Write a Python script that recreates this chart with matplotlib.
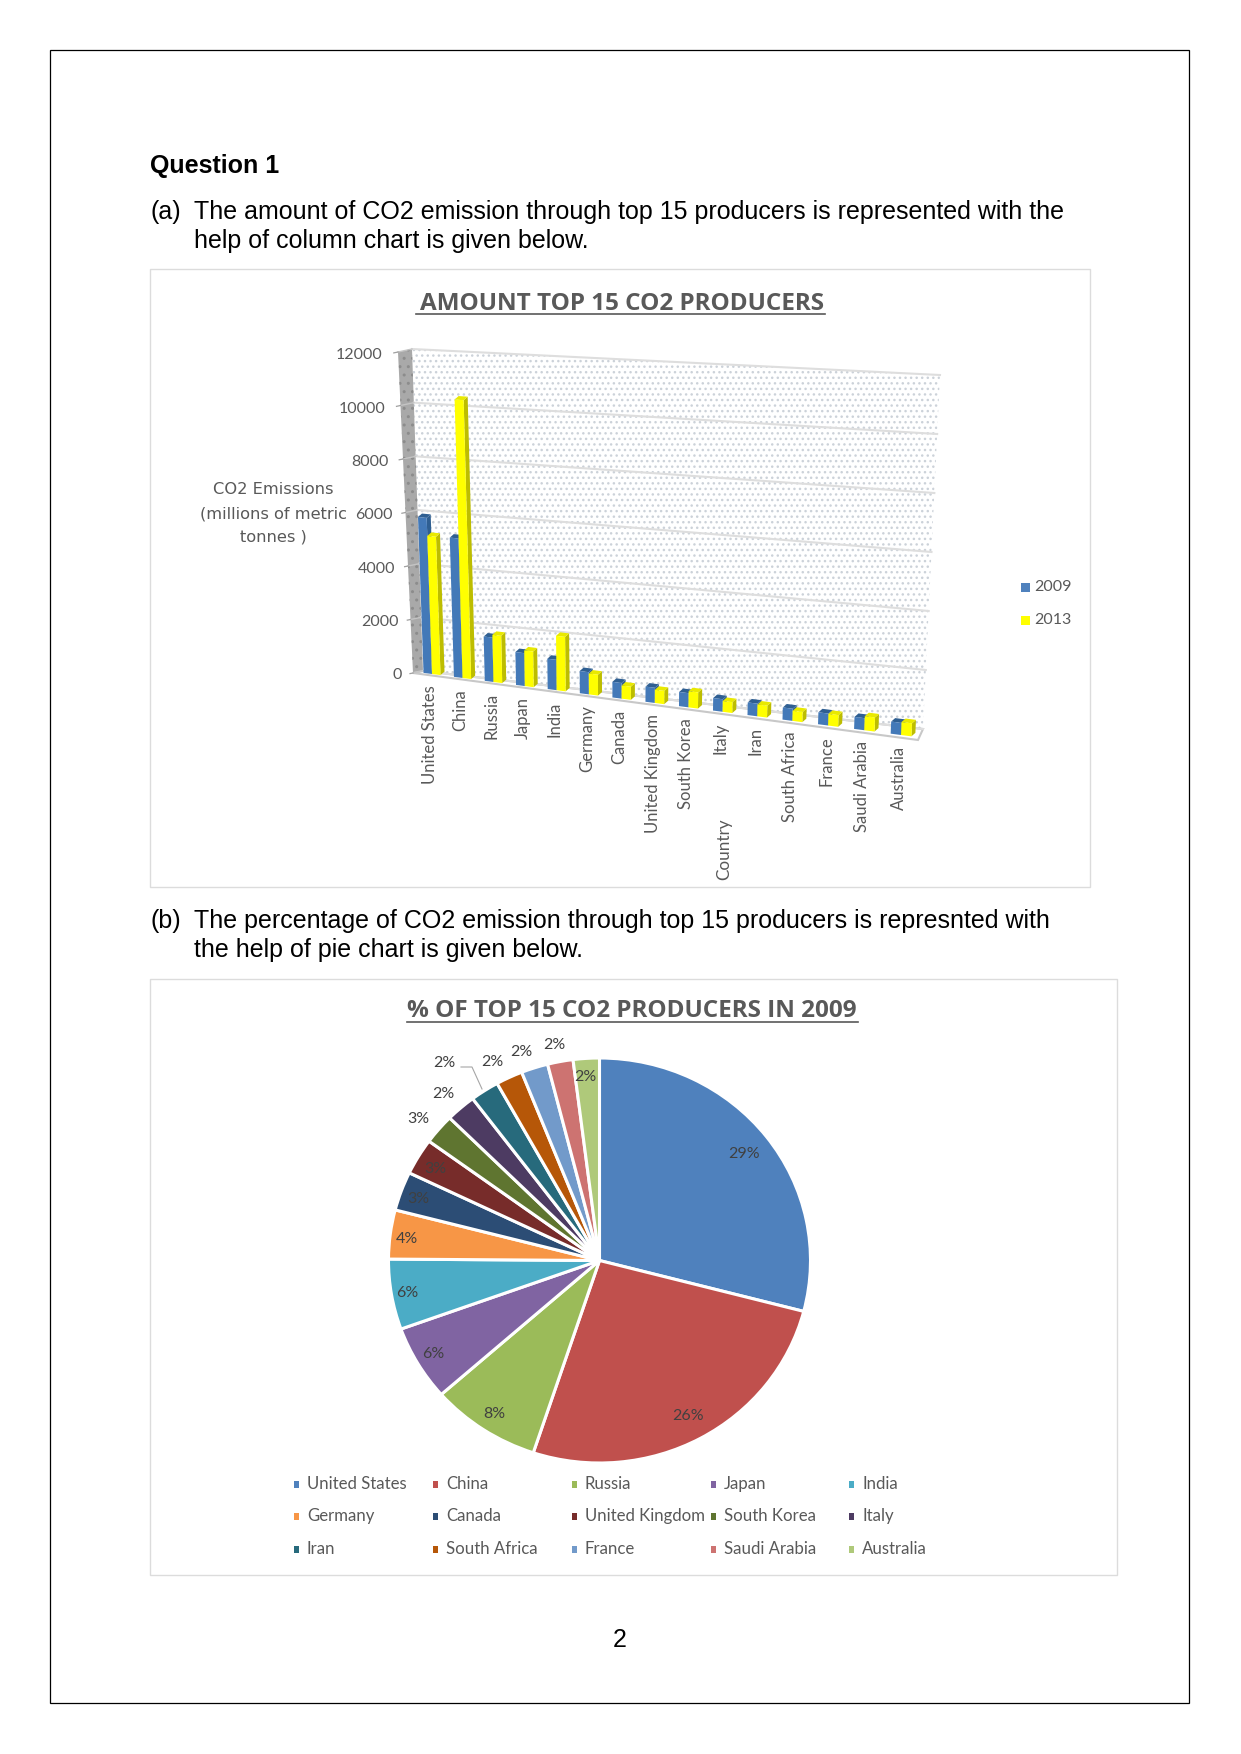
import numpy as np
import matplotlib
matplotlib.use("Agg")
import matplotlib.pyplot as plt
from matplotlib.transforms import Transform, Affine2D

countries = ["United States", "China", "Russia", "Japan", "India", "Germany", "Canada",
             "United Kingdom", "South Korea", "Italy", "Iran", "South Africa", "France",
             "Saudi Arabia", "Australia"]
co2_2009 = [5800, 5150, 1630, 1200, 1100, 800, 560, 540, 500, 440, 440, 420, 410, 410, 410]
co2_2013 = [5130, 10280, 1730, 1300, 1970, 750, 470, 470, 570, 380, 410, 350, 400, 480, 440]
y_ticks = [0, 2000, 4000, 6000, 8000, 10000, 12000]
years = ["2009", "2013"]

pie_values = [29.0, 26.0, 8.4, 6.0, 5.6, 3.9, 3.1, 2.9, 2.4, 2.3, 2.2, 2.05, 2.05, 1.95, 2.0]
pie_labels = ["29%", "26%", "8%", "6%", "6%", "4%", "3%", "3%", "3%", "2%", "2%", "2%", "2%", "2%", "2%"]
pie_colors = ["#4F81BD", "#C0504D", "#9BBB59", "#8064A2", "#4BACC6", "#F79646", "#2C4D75",
              "#772C2A", "#5F7530", "#4D3B62", "#276A7C", "#B65708", "#729ACA", "#CD7371", "#AFC97A"]
pie_label_xy = [(744, 1154), (688, 1416), (494, 1414), (433, 1354), (407, 1293), (407, 1239),
                (418, 1199), (435, 1169), (418, 1119), (443, 1094), (444, 1063), (492, 1062),
                (521, 1052), (554, 1045), (585, 1077)]

W, H = 1241, 1754
ARIAL = "Liberation Sans"
CHART = "Lato"
GREY = "#595959"

fig = plt.figure(figsize=(W / 100, H / 100), dpi=100, facecolor="white")
ax = fig.add_axes([0, 0, 1, 1])
ax.set_xlim(0, W)
ax.set_ylim(H, 0)
ax.axis("off")
ax.set_autoscale_on(False)


class Persp(Transform):
    """(category, value) to page: foreshortened along the category axis, linear in value."""
    input_dims = 2
    output_dims = 2
    is_separable = False
    has_inverse = False

    def __init__(self, u0, u1, vmax, bl, br, tl, tr, r=1.0):
        super().__init__()
        self.u0, self.u1, self.vmax, self.r = u0, u1, vmax, r
        self.c = [np.array(p, float) for p in (bl, br, tl, tr)]

    def transform_non_affine(self, pts):
        pts = np.asarray(pts, float)
        s = (pts[:, 0] - self.u0) / (self.u1 - self.u0)
        t = (s / (self.r + (1 - self.r) * s))[:, None]
        f = (pts[:, 1] / self.vmax)[:, None]
        bl, br, tl, tr = self.c
        return (1 - f) * ((1 - t) * bl + t * br) + f * ((1 - t) * tl + t * tr)


# --- page furniture
ax.add_patch(plt.Rectangle((50, 50), 1139, 1653, fc="none", ec="black", lw=0.9))
ax.text(150, 166.5, "Question 1", family=ARIAL, weight="bold", fontsize=18, va="center", color="black")
page_lines = [(150, 211.5, "(a)"), (194.5, 211.5, "The amount of CO2 emission through top 15 producers is represented with the"),
              (194.5, 241, "help of column chart is given below."),
              (150, 921, "(b)"), (194.5, 921, "The percentage of CO2 emission through top 15 producers is represnted with"),
              (194.5, 950, "the help of pie chart is given below.")]
for x, y, s in page_lines:
    ax.text(x, y, s, family=ARIAL, fontsize=18, va="center", color="black")
ax.text(620, 1640, "2", family=ARIAL, fontsize=18, va="center", ha="center", color="black")

ax.add_patch(plt.Rectangle((150, 269), 940, 618, fc="white", ec="#dcdcdc", lw=1.0))
ax.add_patch(plt.Rectangle((150, 979), 967, 596, fc="white", ec="#dcdcdc", lw=1.0))

# --- column chart
ax.text(622, 304, "AMOUNT TOP 15 CO2 PRODUCERS", family="Open Sans", weight="bold", fontsize=17.5,
        color=GREY, ha="center", va="center")
ax.plot([416, 825], [313.5, 313.5], color=GREY, lw=1.2)

vmax = max(y_ticks)
wall = Persp(0, 1, vmax, (423, 671), (923, 729), (412, 349), (940, 375)) + ax.transData
side = Persp(0, 1, vmax, (413, 673), (423, 671), (398, 352), (412, 349)) + ax.transData
bars_h = Persp(0, 14, vmax, (432, 674), (901, 735), (421, 351), (917, 381), r=1.105)
bars = bars_h + ax.transData

ax.fill([0, 1, 1, 0], [0, 0, vmax, vmax], transform=wall, fc="white", ec="#ccd2d9", lw=0, hatch="...", zorder=1)
ax.fill([0, 1, 1, 0], [0, 0, vmax, vmax], transform=side, fc="#a9a9a9", ec="#8c8c8c", lw=0, hatch="..", zorder=1)
ax.fill([413, 423, 923, 918], [673, 671, 729, 740], fc="white", ec="#c8c8c8", lw=1.5, zorder=2)
for v in y_ticks:
    ax.plot([0, 1], [v, v], transform=wall, color="#dedede", lw=1.5, zorder=2)
    ax.plot([0, 1], [v, v], transform=side, color="#c4c4c4", lw=1.0, zorder=2)
    ax.plot([-0.3, 0], [v, v], transform=side, color="#a0a0a0", lw=0.9, zorder=2)
    ax.text(-1.1, v, str(v), transform=side, family=CHART, fontsize=11.5, color=GREY, ha="right", va="center")

DX, DY = 4.0, -3.5
BW = 0.28


def bar3d(x0, value, front, dark, top, z):
    ax.bar(x0, value, BW, align="edge", transform=bars, color=front, lw=0, zorder=z + 0.2)
    p = bars_h.transform(np.array([[x0, 0], [x0 + BW, 0], [x0 + BW, value], [x0, value]], float))
    d = np.array([DX, DY])
    ax.fill(*np.array([p[1], p[1] + d, p[2] + d, p[2]]).T, fc=dark, lw=0, zorder=z)
    ax.fill(*np.array([p[3], p[2], p[2] + d, p[3] + d]).T, fc=top, lw=0, zorder=z + 0.1)


for i, (a, b) in enumerate(zip(co2_2009, co2_2013)):
    bar3d(i - BW, a, "#4379B8", "#2F5F92", "#2F5F92", 3 + i)
    bar3d(i, b, "#FFFF00", "#BDBD00", "#E9E900", 3.5 + i)
    ax.text(i, 0, countries[i], transform=bars_h + Affine2D().translate(-2, 11) + ax.transData,
            family=CHART, fontsize=12, color=GREY, rotation=90, ha="center", va="top")

for y, s in zip([489, 514, 537], ["CO2 Emissions", "(millions of metric", "tonnes )"]):
    ax.text(273, y, s, family="DejaVu Sans", fontsize=11.7, color=GREY, ha="center", va="center")
ax.text(724, 849, "Country", family=CHART, fontsize=12.3, color=GREY, rotation=90, ha="center", va="center")

for y, s, c in zip([587, 620], years, ["#4F81BD", "#FFFF00"]):
    ax.add_patch(plt.Rectangle((1020.5, y - 4.5), 9, 9, fc=c, lw=0))
    ax.text(1034, y, s, family=CHART, fontsize=11.5, color=GREY, va="center")

# --- pie chart
ax.text(632, 1011, "% OF TOP 15 CO2 PRODUCERS IN 2009", family="Open Sans", weight="bold", fontsize=17.5,
        color=GREY, ha="center", va="center")
ax.plot([407, 858], [1022, 1022], color=GREY, lw=1.2)

a_px, b_px, cx, cy = 211, 202.5, 599.5, 1260.5
pax = fig.add_axes([(cx - a_px) / W, 1 - (cy + b_px) / H, 2 * a_px / W, 2 * b_px / H])
pax.pie(pie_values, colors=pie_colors, startangle=90, counterclock=False, radius=1,
        wedgeprops=dict(edgecolor="white", linewidth=2.2))
pax.set_aspect("auto")
pax.set_xlim(-1, 1)
pax.set_ylim(-1, 1)
for w in pax.patches:
    w.set_clip_on(False)

# labels over the pie go on a top layer
top = fig.add_axes([0, 0, 1, 1], facecolor="none")
top.set_xlim(0, W)
top.set_ylim(H, 0)
top.axis("off")
for (x, y), s in zip(pie_label_xy, pie_labels):
    top.text(x, y, s, family=CHART, fontsize=11.5, color="#404040", ha="center", va="center")
top.plot([461, 472, 482], [1067, 1067, 1089], color="#a6a6a6", lw=0.8)

leg_x = [296, 435, 574, 713, 851]
leg_y = [1484, 1516, 1549]
for i, (name, c) in enumerate(zip(countries, pie_colors)):
    r, col = divmod(i, 5)
    top.add_patch(plt.Rectangle((leg_x[col] - 2.5, leg_y[r] - 3.5), 5.5, 7, fc=c, lw=0))
    top.text(leg_x[col] + 11, leg_y[r], name, family=CHART, fontsize=12.1, color=GREY, va="center")

fig.savefig("out.png", dpi=100)
